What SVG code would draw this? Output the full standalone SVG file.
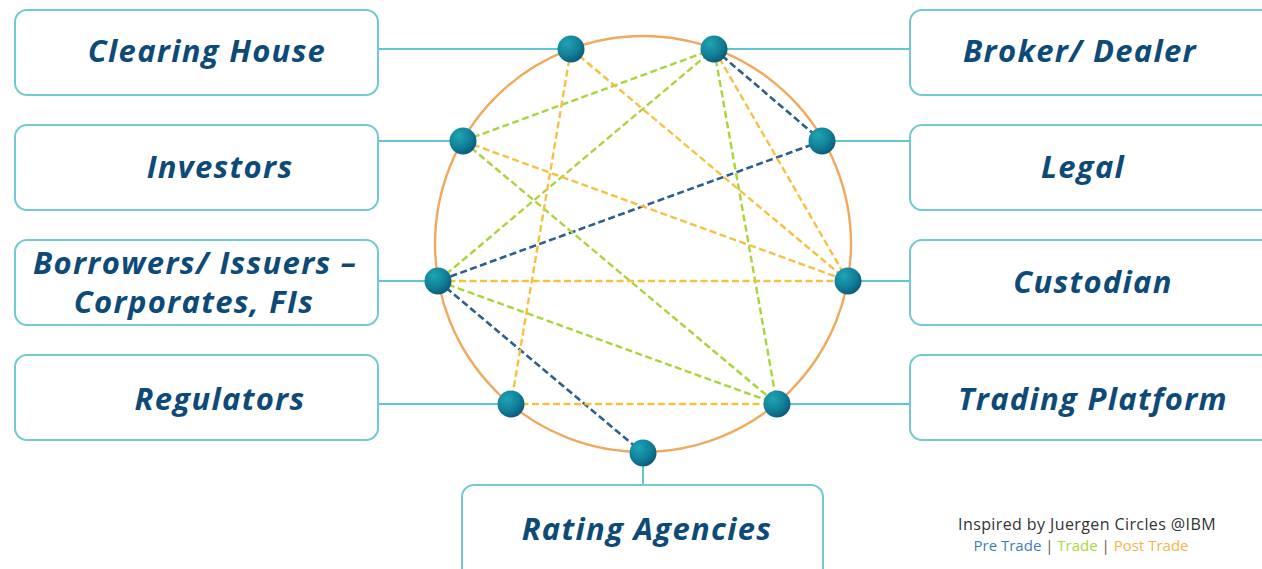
<svg xmlns="http://www.w3.org/2000/svg" width="1262" height="569" viewBox="0 0 1262 569">
<defs>
<radialGradient id="ng" cx="0.35" cy="0.3" r="0.75">
<stop offset="0" stop-color="#1ea5b3"/>
<stop offset="0.6" stop-color="#117f98"/>
<stop offset="1" stop-color="#0a5877"/>
</radialGradient>
<style>
.box{fill:#fff;stroke:#72c9d0;stroke-width:2}
.lbl{font-family:"Open Sans","Liberation Sans",sans-serif;font-weight:700;font-style:italic;font-size:31px;letter-spacing:1.3px;fill:#0e4a78;text-anchor:middle}
.link{stroke:#62c6d2;stroke-width:2;fill:none}
.pre{stroke:#2e5f8a;stroke-width:2.6;stroke-dasharray:7 3.5;fill:none}
.tr{stroke:#a9d43c;stroke-width:2.4;stroke-dasharray:7 3.5;fill:none}
.post{stroke:#f6c143;stroke-width:2.4;stroke-dasharray:7 3.5;fill:none}
.node{fill:url(#ng)}
.leg{font-family:"Open Sans","Liberation Sans",sans-serif}
</style>
</defs>
<rect width="1262" height="569" fill="#fff"/>
<circle cx="643" cy="244" r="208" fill="none" stroke="#f0a95e" stroke-width="2.4"/>
<g id="connectors">
<line class="link" x1="378" y1="49" x2="571" y2="49"/>
<line class="link" x1="714" y1="49" x2="910" y2="49"/>
<line class="link" x1="378" y1="141" x2="463" y2="141"/>
<line class="link" x1="822" y1="141" x2="910" y2="141"/>
<line class="link" x1="378" y1="281" x2="438" y2="281"/>
<line class="link" x1="848" y1="281" x2="910" y2="281"/>
<line class="link" x1="378" y1="404" x2="511" y2="404"/>
<line class="link" x1="777" y1="404" x2="910" y2="404"/>
<line class="link" x1="643" y1="453" x2="643" y2="485"/>
<line class="pre" x1="714" y1="49" x2="822" y2="141"/>
<line class="pre" x1="822" y1="141" x2="438" y2="281"/>
<line class="pre" x1="438" y1="281" x2="643" y2="453"/>
<line class="tr" x1="463" y1="141" x2="714" y2="49"/>
<line class="tr" x1="438" y1="281" x2="714" y2="49"/>
<line class="tr" x1="714" y1="49" x2="777" y2="404"/>
<line class="tr" x1="463" y1="141" x2="777" y2="404"/>
<line class="tr" x1="438" y1="281" x2="777" y2="404"/>
<line class="post" x1="463" y1="141" x2="848" y2="281"/>
<line class="post" x1="571" y1="49" x2="848" y2="281"/>
<line class="post" x1="714" y1="49" x2="848" y2="281"/>
<line class="post" x1="438" y1="281" x2="848" y2="281"/>
<line class="post" x1="511" y1="404" x2="777" y2="404"/>
<line class="post" x1="571" y1="49" x2="511" y2="404"/>
</g>
<g id="clearing-house"><rect class="box" x="15" y="10" width="363" height="85" rx="12"/><text class="lbl" x="207" y="62">Clearing House</text><circle class="node" cx="571" cy="49" r="13.5"/></g>
<g id="investors"><rect class="box" x="15" y="125" width="363" height="85" rx="12"/><text class="lbl" x="220" y="178">Investors</text><circle class="node" cx="463" cy="141" r="13.5"/></g>
<g id="borrowers"><rect class="box" x="15" y="240" width="363" height="85" rx="12"/><text class="lbl" x="195" y="274">Borrowers/ Issuers –</text><text class="lbl" x="194" y="313">Corporates, FIs</text><circle class="node" cx="438" cy="281" r="13.5"/></g>
<g id="regulators"><rect class="box" x="15" y="355" width="363" height="85" rx="12"/><text class="lbl" x="220" y="410">Regulators</text><circle class="node" cx="511" cy="404" r="13.5"/></g>
<g id="broker-dealer"><rect class="box" x="910" y="10" width="370" height="85" rx="12"/><text class="lbl" x="1080" y="62">Broker/ Dealer</text><circle class="node" cx="714" cy="49" r="13.5"/></g>
<g id="legal"><rect class="box" x="910" y="125" width="370" height="85" rx="12"/><text class="lbl" x="1083" y="178">Legal</text><circle class="node" cx="822" cy="141" r="13.5"/></g>
<g id="custodian"><rect class="box" x="910" y="240" width="370" height="85" rx="12"/><text class="lbl" x="1093" y="293">Custodian</text><circle class="node" cx="848" cy="281" r="13.5"/></g>
<g id="trading-platform"><rect class="box" x="910" y="355" width="370" height="85" rx="12"/><text class="lbl" x="1093" y="410">Trading Platform</text><circle class="node" cx="777" cy="404" r="13.5"/></g>
<g id="rating-agencies"><rect class="box" x="462" y="485" width="361" height="100" rx="12"/><text class="lbl" x="647" y="540">Rating Agencies</text><circle class="node" cx="643" cy="453" r="13.5"/></g>
<g id="legend">
<text class="leg" x="1087" y="530" text-anchor="middle" fill="#333" font-size="16" letter-spacing="0.4">Inspired by Juergen Circles @IBM</text>
<text class="leg" x="1081" y="551" text-anchor="middle" font-size="15"><tspan fill="#3f7fb3">Pre Trade</tspan><tspan fill="#555"> | </tspan><tspan fill="#a8d840">Trade</tspan><tspan fill="#555"> | </tspan><tspan fill="#f5b54a">Post Trade</tspan></text>
</g>
</svg>
